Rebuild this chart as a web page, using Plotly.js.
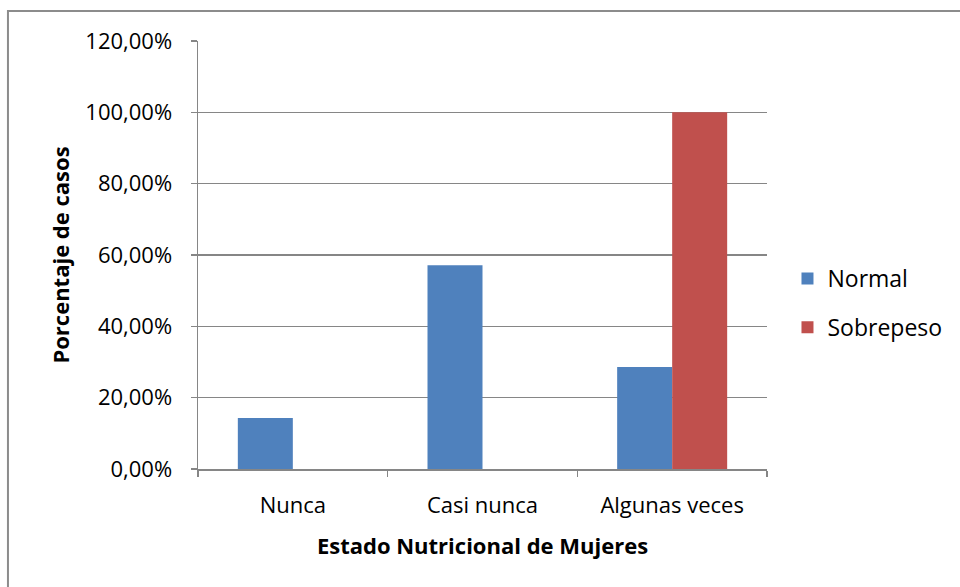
<!DOCTYPE html>
<html>
<head>
<meta charset="utf-8">
<script src="https://cdn.plot.ly/plotly-3.0.1.min.js"></script>
<style>
html,body{margin:0;padding:0;background:#fff;}
#chart{width:960px;height:587px;}
</style>
</head>
<body>
<div id="chart"></div>
<script>
const categories = ["Nunca", "Casi nunca", "Algunas veces"];
const normalValues = [0.1429, 0.5714, 0.2857];
const sobrepesoValues = [0, 0, 1.0];
const seriesNames = ["Normal", "Sobrepeso"];
const yTickValues = [0, 0.2, 0.4, 0.6, 0.8, 1.0, 1.2];

const FONT = "Open Sans, Liberation Sans, sans-serif";

const traces = [
  {type: "bar", name: seriesNames[0], x: categories, y: normalValues,
   marker: {color: "#4F81BD"}, legendgroup: "a"},
  {type: "bar", name: seriesNames[1], x: categories, y: sobrepesoValues,
   marker: {color: "#C0504D"}, legendgroup: "b"}
];

const layout = {
  width: 960, height: 587,
  margin: {l: 198, r: 193, t: 41, b: 118, autoexpand: false},
  paper_bgcolor: "#fff", plot_bgcolor: "#fff",
  separators: ",.",
  barmode: "group", bargap: 0.42, bargroupgap: 0,
  font: {family: FONT, size: 22, color: "#000"},
  xaxis: {
    type: "category",
    showline: true, linecolor: "#868686", linewidth: 1.5,
    ticks: "outside", ticklen: 6, tickcolor: "#868686", tickwidth: 1.5,
    tickson: "boundaries",
    showgrid: false,
    ticklabelstandoff: 16,
    tickfont: {family: FONT, size: 22},
    title: {text: "<b>Estado Nutricional de Mujeres</b>", font: {family: FONT, size: 22}, standoff: 20}
  },
  yaxis: {
    range: [0, 1.2], tickvals: yTickValues, tickformat: ".2%",
    showline: true, linecolor: "#868686", linewidth: 1.5,
    ticks: "outside", ticklen: 6, tickcolor: "#868686", tickwidth: 1.5,
    showgrid: true, gridcolor: "#868686", gridwidth: 1.5,
    zeroline: false,
    ticklabelstandoff: 14,
    tickfont: {family: FONT, size: 22},
    title: {text: "<b>Porcentaje de casos</b>", font: {family: FONT, size: 22}, standoff: 9}
  },
  showlegend: true,
  legend: {x: 1.036, y: 0.388, xanchor: "left", yanchor: "middle",
    traceorder: "grouped", tracegroupgap: 16,
    font: {family: FONT, size: 23}, itemwidth: 30},
  shapes: [{type: "rect", xref: "paper", yref: "paper",
    x0: -0.334, x1: 1.5, y0: -0.5, y1: 1.07,
    line: {color: "#8c8c8c", width: 2}, fillcolor: "rgba(0,0,0,0)", layer: "below"}]
};

Plotly.newPlot("chart", traces, layout, {displayModeBar: false, staticPlot: true});
</script>
</body>
</html>
